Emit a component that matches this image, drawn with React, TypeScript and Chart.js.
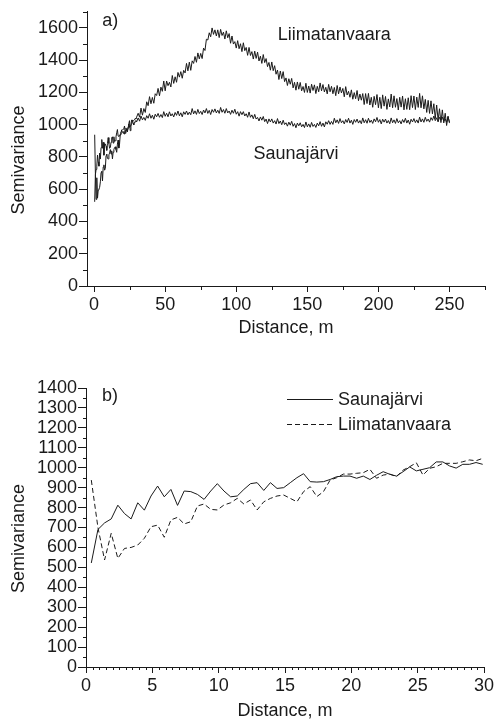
import React, { useEffect, useRef } from "react";
import { Chart, registerables } from "chart.js";
Chart.register(...registerables);

const FONT = "'Liberation Sans', Arial, Helvetica, sans-serif";
const INK = "#1a1a1a";

// Lag distances (m) and semivariances, short range (0.5 m lags)
const nearDist = [0.4, 0.9, 1.4, 1.9, 2.4, 2.9, 3.4, 3.9, 4.4, 4.9, 5.4, 5.9, 6.4, 6.9, 7.4, 7.9, 8.4, 8.9, 9.4, 9.9, 10.4, 10.9, 11.4, 11.9, 12.4, 12.9, 13.4, 13.9, 14.4, 14.9, 15.4, 15.9, 16.4, 16.9, 17.4, 17.9, 18.4, 18.9, 19.4, 19.9, 20.4, 20.9, 21.4, 21.9, 22.4, 22.9, 23.4, 23.9, 24.4, 24.9, 25.4, 25.9, 26.4, 26.9, 27.4, 27.9, 28.4, 28.9, 29.4, 29.9];
const nearSauna = [522, 690, 723, 743, 812, 770, 743, 824, 787, 858, 908, 854, 891, 811, 883, 880, 866, 841, 883, 920, 883, 854, 858, 891, 920, 925, 886, 925, 896, 900, 925, 950, 970, 930, 928, 930, 941, 955, 958, 958, 947, 958, 941, 962, 980, 967, 958, 980, 1004, 984, 992, 1000, 1029, 1029, 1009, 998, 1017, 1017, 1026, 1017];
const nearLiima = [938, 700, 537, 671, 545, 595, 600, 612, 646, 704, 712, 651, 738, 751, 718, 729, 808, 818, 791, 788, 813, 824, 846, 818, 838, 788, 829, 846, 858, 863, 846, 829, 880, 905, 855, 880, 938, 950, 968, 968, 972, 975, 992, 947, 963, 968, 955, 988, 1005, 1025, 963, 997, 1005, 1022, 1022, 1022, 1030, 1039, 1035, 1047];

// Long range (read every 1 m, 31..250 m)
const farDist = [
  31, 32, 33, 34, 35, 36, 37, 38, 39, 40, 41, 42, 43, 44, 45, 46, 47, 48, 49, 50,
  51, 52, 53, 54, 55, 56, 57, 58, 59, 60, 61, 62, 63, 64, 65, 66, 67, 68, 69, 70,
  71, 72, 73, 74, 75, 76, 77, 78, 79, 80, 81, 82, 83, 84, 85, 86, 87, 88, 89, 90,
  91, 92, 93, 94, 95, 96, 97, 98, 99, 100, 101, 102, 103, 104, 105, 106, 107, 108, 109, 110,
  111, 112, 113, 114, 115, 116, 117, 118, 119, 120, 121, 122, 123, 124, 125, 126, 127, 128, 129, 130,
  131, 132, 133, 134, 135, 136, 137, 138, 139, 140, 141, 142, 143, 144, 145, 146, 147, 148, 149, 150,
  151, 152, 153, 154, 155, 156, 157, 158, 159, 160, 161, 162, 163, 164, 165, 166, 167, 168, 169, 170,
  171, 172, 173, 174, 175, 176, 177, 178, 179, 180, 181, 182, 183, 184, 185, 186, 187, 188, 189, 190,
  191, 192, 193, 194, 195, 196, 197, 198, 199, 200, 201, 202, 203, 204, 205, 206, 207, 208, 209, 210,
  211, 212, 213, 214, 215, 216, 217, 218, 219, 220, 221, 222, 223, 224, 225, 226, 227, 228, 229, 230,
  231, 232, 233, 234, 235, 236, 237, 238, 239, 240, 241, 242, 243, 244, 245, 246, 247, 248, 249, 250
];
const farLiima = [
  1071, 1047, 1103, 1059, 1100, 1076, 1142, 1118, 1174, 1130,
  1169, 1133, 1192, 1181, 1225, 1179, 1233, 1207, 1271, 1210,
  1271, 1242, 1263, 1234, 1305, 1256, 1297, 1263, 1324, 1295,
  1329, 1288, 1337, 1321, 1380, 1334, 1388, 1337, 1396, 1380,
  1423, 1387, 1445, 1408, 1442, 1410, 1475, 1460, 1530, 1525,
  1570, 1545, 1600, 1560, 1588, 1550, 1588, 1540, 1591, 1553,
  1574, 1531, 1582, 1539, 1565, 1505, 1550, 1500, 1515, 1475,
  1521, 1471, 1502, 1453, 1508, 1459, 1479, 1430, 1479, 1429,
  1453, 1407, 1456, 1411, 1450, 1395, 1425, 1380, 1435, 1385,
  1410, 1360, 1386, 1338, 1389, 1335, 1366, 1313, 1339, 1280,
  1333, 1286, 1329, 1267, 1290, 1243, 1285, 1251, 1287, 1228,
  1263, 1214, 1265, 1220, 1262, 1210, 1237, 1200, 1257, 1200,
  1240, 1196, 1251, 1212, 1247, 1193, 1238, 1204, 1259, 1210,
  1249, 1203, 1232, 1191, 1250, 1204, 1238, 1192, 1231, 1180,
  1243, 1191, 1234, 1197, 1225, 1173, 1236, 1184, 1207, 1170,
  1216, 1158, 1199, 1161, 1212, 1149, 1190, 1152, 1193, 1125,
  1193, 1131, 1194, 1122, 1170, 1108, 1176, 1124, 1187, 1105,
  1170, 1100, 1185, 1115, 1175, 1095, 1160, 1110, 1190, 1105,
  1179, 1108, 1162, 1091, 1170, 1109, 1178, 1092, 1161, 1095,
  1167, 1093, 1180, 1106, 1178, 1094, 1171, 1107, 1194, 1105,
  1179, 1098, 1157, 1076, 1151, 1070, 1148, 1067, 1130, 1038,
  1122, 1030, 1099, 1013, 1092, 1011, 1071, 995, 1053, 1010
];
const farSauna = [
  1042, 1022, 1054, 1030, 1045, 1027, 1056, 1040, 1068, 1040,
  1059, 1034, 1065, 1049, 1070, 1046, 1063, 1044, 1081, 1052,
  1071, 1049, 1080, 1054, 1068, 1048, 1076, 1058, 1085, 1055,
  1074, 1049, 1080, 1064, 1085, 1061, 1078, 1062, 1100, 1067,
  1086, 1064, 1095, 1069, 1083, 1063, 1091, 1073, 1100, 1070,
  1089, 1063, 1094, 1077, 1098, 1073, 1090, 1070, 1107, 1077,
  1094, 1071, 1100, 1073, 1085, 1064, 1090, 1071, 1096, 1065,
  1081, 1053, 1081, 1062, 1081, 1054, 1068, 1046, 1079, 1046,
  1061, 1037, 1064, 1035, 1045, 1023, 1048, 1028, 1051, 1019,
  1035, 1007, 1036, 1017, 1036, 1010, 1025, 1004, 1038, 1007,
  1023, 1000, 1028, 1001, 1012, 991, 1016, 997, 1021, 990,
  1007, 981, 1010, 993, 1012, 987, 1002, 982, 1017, 987,
  1005, 984, 1014, 989, 1002, 983, 1010, 993, 1019, 990,
  1010, 986, 1018, 1003, 1025, 1002, 1020, 1002, 1040, 1012,
  1030, 1008, 1038, 1012, 1025, 1005, 1032, 1014, 1040, 1010,
  1028, 1002, 1032, 1015, 1035, 1010, 1026, 1006, 1042, 1012,
  1031, 1009, 1040, 1014, 1028, 1008, 1036, 1018, 1045, 1015,
  1032, 1005, 1034, 1016, 1035, 1010, 1026, 1006, 1042, 1012,
  1030, 1008, 1038, 1012, 1025, 1005, 1032, 1014, 1040, 1010,
  1029, 1003, 1034, 1017, 1038, 1013, 1030, 1010, 1047, 1017,
  1036, 1015, 1046, 1021, 1035, 1016, 1044, 1027, 1054, 1025,
  1043, 1017, 1046, 1028, 1047, 1021, 1036, 1015, 1049, 1017
];

// Tick labels
const aYTicks = [0, 200, 400, 600, 800, 1000, 1200, 1400, 1600];
const aXTicks = [0, 50, 100, 150, 200, 250];
const bYTicks = [0, 100, 200, 300, 400, 500, 600, 700, 800, 900, 1000, 1100, 1200, 1300, 1400];
const bXTicks = [0, 5, 10, 15, 20, 25, 30];

const steps = (a: number, b: number, s: number) => {
  const out: number[] = [];
  for (let v = a; v <= b + 1e-9; v += s) out.push(Math.round(v * 100) / 100);
  return out;
};

const xy = (xs: number[], ys: number[]) => xs.map((x, i) => ({ x, y: ys[i] }));

const decoPlugin = {
  id: "deco",
  afterDraw(chart: any, _args: any, opts: any) {
    const ctx = chart.ctx;
    const xs = chart.scales.x;
    const ys = chart.scales.y;
    const area = chart.chartArea;
    ctx.save();
    ctx.strokeStyle = INK;
    ctx.lineWidth = 1;
    (opts.xMinor || []).forEach((v: number) => {
      const px = Math.round(xs.getPixelForValue(v)) + 0.5;
      ctx.beginPath();
      ctx.moveTo(px, area.bottom);
      ctx.lineTo(px, area.bottom + opts.minorLen);
      ctx.stroke();
    });
    (opts.yMinor || []).forEach((v: number) => {
      const py = Math.round(ys.getPixelForValue(v)) + 0.5;
      ctx.beginPath();
      ctx.moveTo(area.left, py);
      ctx.lineTo(area.left - opts.minorLen, py);
      ctx.stroke();
    });
    ctx.fillStyle = INK;
    ctx.font = `18px ${FONT}`;
    ctx.textBaseline = "middle";
    ctx.textAlign = "center";
    (opts.labels || []).forEach((l: any) => {
      ctx.fillText(l.text, xs.getPixelForValue(l.x), ys.getPixelForValue(l.y));
    });
    ctx.fillText("Distance, m", (area.left + area.right) / 2, opts.xTitleY);
    ctx.save();
    ctx.translate(19, (area.top + area.bottom) / 2 + 11);
    ctx.rotate(-Math.PI / 2);
    ctx.fillText("Semivariance", 0, 0);
    ctx.restore();
    if (opts.legend) {
      ctx.textAlign = "left";
      chart.data.datasets.forEach((ds: any, i: number) => {
        const y = opts.legend.y + i * 25;
        ctx.save();
        ctx.setLineDash(ds.borderDash || []);
        ctx.beginPath();
        ctx.moveTo(opts.legend.x, y + 0.5);
        ctx.lineTo(opts.legend.x + 46, y + 0.5);
        ctx.stroke();
        ctx.restore();
        ctx.fillText(ds.label, opts.legend.x + 51, y + 1);
      });
    }
    ctx.restore();
  },
};

const scaleSet = (o: any) => ({
  x: {
    type: "linear",
    min: o.xMin,
    max: o.xMax,
    border: { display: true, color: INK, width: 1 },
    grid: { drawOnChartArea: false, drawTicks: true, tickLength: 6, color: INK },
    ticks: { color: INK, font: { family: FONT, size: 18 }, padding: 2, maxRotation: 0, autoSkip: false, callback: (v: any) => String(v) },
    afterBuildTicks: (s: any) => { s.ticks = o.xTicks.map((v: number) => ({ value: v })); },
    afterFit: (s: any) => { s.height = o.xH; },
  },
  y: {
    type: "linear",
    min: o.yMin,
    max: o.yMax,
    border: { display: true, color: INK, width: 1 },
    grid: { drawOnChartArea: false, drawTicks: true, tickLength: 8, color: INK },
    ticks: { color: INK, font: { family: FONT, size: 18 }, padding: 1, autoSkip: false, callback: (v: any) => String(v) },
    afterBuildTicks: (s: any) => { s.ticks = o.yTicks.map((v: number) => ({ value: v })); },
    afterFit: (s: any) => { s.width = o.yW; },
  },
});

const configA = () => ({
  type: "line",
  data: {
    datasets: [
      { label: "Liimatanvaara", data: xy(nearDist.concat(farDist), nearLiima.concat(farLiima)), borderColor: INK, borderWidth: 1, pointRadius: 0, tension: 0 },
      { label: "Saunajärvi", data: xy(nearDist.concat(farDist), nearSauna.concat(farSauna)), borderColor: INK, borderWidth: 1, pointRadius: 0, tension: 0 },
    ],
  },
  options: {
    animation: false,
    responsive: false,
    devicePixelRatio: 1,
    layout: { padding: { top: 7, right: 16, bottom: 0, left: 0 } },
    scales: scaleSet({ xMin: -5, xMax: 275, xTicks: aXTicks, xH: 74, yMin: 0, yMax: 1700, yTicks: aYTicks, yW: 87 }),
    plugins: {
      legend: { display: false },
      tooltip: { enabled: false },
      deco: {
        xMinor: [25, 75, 125, 175, 225, 275],
        yMinor: steps(100, 1700, 200),
        minorLen: 4,
        xTitleY: 328,
        labels: [
          { text: "a)", x: 11.3, y: 1643 },
          { text: "Liimatanvaara", x: 169, y: 1557 },
          { text: "Saunajärvi", x: 142, y: 818 },
        ],
      },
    },
  },
  plugins: [decoPlugin],
});

const configB = () => ({
  type: "line",
  data: {
    datasets: [
      { label: "Saunajärvi", data: xy(nearDist, nearSauna), borderColor: INK, borderWidth: 1, pointRadius: 0, tension: 0 },
      { label: "Liimatanvaara", data: xy(nearDist, nearLiima), borderColor: INK, borderWidth: 1, borderDash: [5, 3], pointRadius: 0, tension: 0 },
    ],
  },
  options: {
    animation: false,
    responsive: false,
    devicePixelRatio: 1,
    layout: { padding: { top: 28, right: 17, bottom: 0, left: 0 } },
    scales: scaleSet({ xMin: 0, xMax: 30, xTicks: bXTicks, xH: 54, yMin: 0, yMax: 1400, yTicks: bYTicks, yW: 86 }),
    plugins: {
      legend: { display: false },
      tooltip: { enabled: false },
      deco: {
        xMinor: steps(0.5, 29.5, 1).concat(steps(1, 29, 1).filter((v) => v % 5 !== 0)),
        yMinor: steps(50, 1350, 100),
        minorLen: 3,
        xTitleY: 351,
        labels: [{ text: "b)", x: 1.8, y: 1360 }],
        legend: { x: 287, y: 39 },
      },
    },
  },
  plugins: [decoPlugin],
});

function ChartCanvas({ make, width, height, top }: { make: () => any; width: number; height: number; top: number }) {
  const ref = useRef<HTMLCanvasElement>(null);
  useEffect(() => {
    const chart = new Chart(ref.current as HTMLCanvasElement, make());
    return () => chart.destroy();
  }, [make]);
  return (
    <canvas
      ref={ref}
      width={width}
      height={height}
      style={{ position: "absolute", left: 0, top, width, height, display: "block" }}
    />
  );
}

export default function App() {
  return (
    <div style={{ position: "absolute", left: 0, top: 0, width: 501, height: 721, background: "#fff", overflow: "hidden" }}>
      <ChartCanvas make={configA} width={501} height={360} top={0} />
      <ChartCanvas make={configB} width={501} height={361} top={360} />
    </div>
  );
}
